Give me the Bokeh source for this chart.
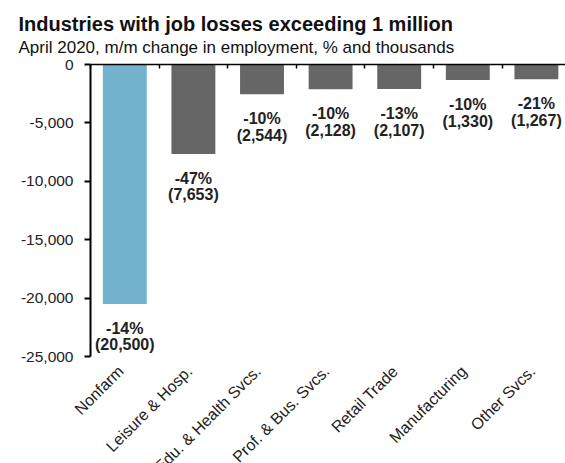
import math
from bokeh.plotting import figure
from bokeh.models import (ColumnDataSource, Range1d, FixedTicker, LinearAxis,
                          Title, NumeralTickFormatter)
from bokeh.core.properties import value
from bokeh.embed import file_html
from bokeh.resources import INLINE

categories = ["Nonfarm", "Leisure & Hosp.", "Edu. & Health Svcs.",
              "Prof. & Bus. Svcs.", "Retail Trade", "Manufacturing", "Other Svcs."]
change_thousands = [-20500, -7653, -2544, -2128, -2107, -1330, -1267]
change_pct = [-14, -47, -10, -10, -13, -10, -21]
y_ticks = [0, -5000, -10000, -15000, -20000, -25000]

title_text = "Industries with job losses exceeding 1 million"
subtitle_text = "April 2020, m/m change in employment, % and thousands"

BLUE = "#72B2CC"
GRAY = "#666666"
FONT = "Liberation Sans"

# layout (pixels)
W, H = 565, 463
FRAME_TOP = 56                # top of drawing area
ZERO_PX = 64                  # where y = 0 sits
AXIS_BOTTOM_PX = 356          # where the lowest y tick sits
AXIS_LEFT_PX = 90             # where the y axis line sits
PX_PER_CAT = 68.6
y_min_tick = min(y_ticks)
units_per_px = -y_min_tick / (AXIS_BOTTOM_PX - ZERO_PX)
y_start = -(H - ZERO_PX) * units_per_px
y_end = (ZERO_PX - FRAME_TOP) * units_per_px
x_start = -AXIS_LEFT_PX / PX_PER_CAT
x_end = (W - AXIS_LEFT_PX) / PX_PER_CAT

n = len(categories)
xs = [i + 0.5 for i in range(n)]
colors = [BLUE] + [GRAY] * (n - 1)
labels = [f"{p}%\n({abs(v):,})" for p, v in zip(change_pct, change_thousands)]

src = ColumnDataSource(dict(x=xs, top=[0] * n, bottom=change_thousands,
                            color=colors, label=labels, cat=categories,
                            cy=[y_min_tick] * n))

p = figure(width=W, height=H, output_backend="svg", toolbar_location=None,
           x_range=Range1d(x_start, x_end), y_range=Range1d(y_start, y_end),
           min_border_left=0, min_border_right=0, min_border_top=FRAME_TOP,
           min_border_bottom=0, x_axis_location=None, y_axis_location=None)
p.outline_line_color = None
p.grid.grid_line_color = None
p.background_fill_color = "white"
p.border_fill_color = "white"

p.vbar(x="x", top="top", bottom="bottom", width=0.64, fill_color="color",
       line_color=None, source=src)

# bar value labels
p.text(x="x", y="bottom", text="label", source=src, text_align="center",
       text_baseline="top", y_offset=16, text_font=value(FONT),
       text_font_size="16px", text_font_style="bold", text_color="#222222",
       text_line_height=0.97)

# category labels, rotated, under the axis end
p.text(x="x", y="cy", text="cat", source=src, angle=math.pi / 4,
       text_align="right", text_baseline="middle", x_offset=-4, y_offset=12,
       text_font=value(FONT), text_font_size="16px", text_color="#222222")

# y axis, fixed at x = 0
yax = LinearAxis(ticker=FixedTicker(ticks=y_ticks), bounds=(y_min_tick, 0),
                 fixed_location=0,
                 formatter=NumeralTickFormatter(format="0,0"))
yax.axis_line_color = "black"
yax.axis_line_width = 2
yax.major_tick_line_color = "black"
yax.major_tick_line_width = 2
yax.major_tick_in = 0
yax.major_tick_out = 6
yax.minor_tick_line_color = None
yax.major_label_standoff = 11
yax.major_label_text_font = FONT
yax.major_label_text_font_size = "15.5px"
yax.major_label_text_color = "#222222"
p.add_layout(yax, "left")

# x axis line at y = 0 with boundary ticks pointing down
bounds_ticks = list(range(n + 1))
xax = LinearAxis(ticker=FixedTicker(ticks=bounds_ticks), bounds=(0, x_end),
                 fixed_location=0,
                 major_label_overrides={t: "" for t in bounds_ticks})
xax.axis_line_color = "black"
xax.axis_line_width = 1.5
xax.major_tick_line_color = "black"
xax.major_tick_line_width = 1.5
xax.major_tick_in = 4
xax.major_tick_out = 0
xax.minor_tick_line_color = None
xax.major_label_standoff = 0
xax.major_label_text_font_size = "1px"
p.add_layout(xax, "above")

sub = Title(text=subtitle_text, align="left", offset=18, standoff=0,
            text_font=FONT, text_font_size="17px", text_font_style="normal",
            text_color="#111111")
ttl = Title(text=title_text, align="left", offset=18, standoff=1,
            text_font=FONT, text_font_size="20px", text_font_style="bold",
            text_color="#111111")
p.add_layout(sub, "above")
p.add_layout(ttl, "above")

open("out.html", "w").write(file_html(p, INLINE))
